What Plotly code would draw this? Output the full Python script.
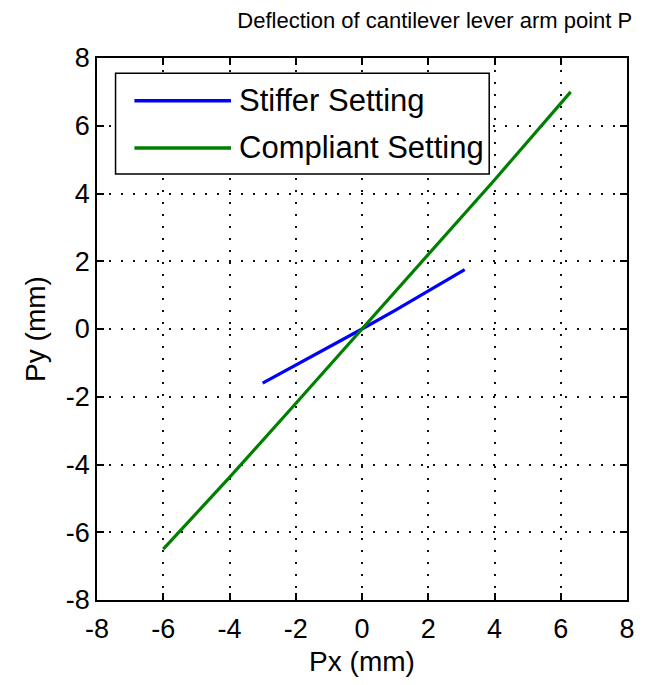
import plotly.graph_objects as go

series_names = ["Stiffer Setting", "Compliant Setting"]
series_colors = ["#0000ff", "#007f00"]
stiff_x = [-3.0, -2.0, -1.0, 0.0, 1.0, 2.0, 3.1]
stiff_y = [-1.6, -1.07, -0.53, 0.0, 0.55, 1.12, 1.75]
comp_x = [-6.0, -4.0, -2.0, 0.0, 2.0, 4.0, 6.3]
comp_y = [-6.5, -4.38, -2.2, 0.0, 2.2, 4.4, 7.0]
ticks = [-8, -6, -4, -2, 0, 2, 4, 6, 8]

fig = go.Figure()
for xs, ys, nm, col in [(stiff_x, stiff_y, series_names[0], series_colors[0]),
                        (comp_x, comp_y, series_names[1], series_colors[1])]:
    fig.add_trace(go.Scatter(x=xs, y=ys, mode="lines", name=nm, showlegend=False,
                             line=dict(color=col, width=3.2)))

axis_common = dict(range=[-8, 8], tickvals=ticks, ticktext=[str(t) for t in ticks],
                   showgrid=True, gridcolor="#111", griddash="2px,10px", gridwidth=1.5,
                   zeroline=False, showline=True, linecolor="black", linewidth=1.5,
                   mirror="ticks", ticks="inside", ticklen=7, tickcolor="black", tickwidth=1.5,
                   tickfont=dict(size=27, color="black"))

# custom legend box (MATLAB style, long line samples)
leg_x0, leg_x1, leg_y0, leg_y1 = 0.035, 0.740, 0.786, 0.972
line_x0, line_x1, text_x = 0.0706, 0.2528, 0.264
row_y = [0.921, 0.834]
shapes = [dict(type="rect", xref="paper", yref="paper", x0=leg_x0, x1=leg_x1, y0=leg_y0, y1=leg_y1,
               line=dict(color="black", width=1.5), fillcolor="white", layer="above")]
annotations = []
for nm, col, yy in zip(series_names, series_colors, row_y):
    shapes.append(dict(type="line", xref="paper", yref="paper", x0=line_x0, x1=line_x1, y0=yy, y1=yy,
                       line=dict(color=col, width=3.5), layer="above"))
    annotations.append(dict(text=nm, xref="paper", yref="paper", x=text_x, y=yy, xanchor="left",
                            yanchor="middle", showarrow=False, font=dict(size=31, color="black")))

fig.update_layout(
    width=647, height=685,
    margin=dict(l=97, r=12, t=58, b=85),
    paper_bgcolor="white", plot_bgcolor="white",
    font=dict(family="Liberation Sans, Arial, sans-serif", color="black"),
    title=dict(text="Deflection of cantilever lever arm point P", x=0.672, xanchor="center",
               y=0.971, yanchor="middle", font=dict(size=22, color="black")),
    xaxis=dict(axis_common, ticklabelstandoff=4,
               title=dict(text="Px (mm)", font=dict(size=28), standoff=8)),
    yaxis=dict(axis_common, title=dict(text="Py (mm)", font=dict(size=28), standoff=12)),
    shapes=shapes, annotations=annotations,
    showlegend=False,
)

fig.write_html("out.html")
